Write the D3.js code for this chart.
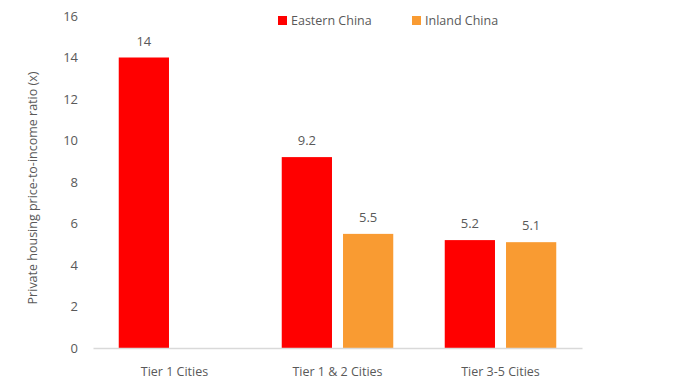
<!DOCTYPE html>
<html>
<head>
<meta charset="utf-8">
<script src="https://cdn.jsdelivr.net/npm/d3@7"></script>
<style>
  body { margin: 0; background: #fff; overflow: hidden; }
  text { font-family: "Open Sans", sans-serif; fill: #595959; }
</style>
</head>
<body>
<div id="canvas"></div>
<script>
const width = 698;
const height = 387;

// data
const categories = ['Tier 1 Cities', 'Tier 1 & 2 Cities', 'Tier 3-5 Cities'];
const seriesNames = ['Eastern China', 'Inland China'];
const eastern = [14, 9.2, 5.2];
const inland = [null, 5.5, 5.1];
const yTicks = [0, 2, 4, 6, 8, 10, 12, 14, 16];
const colors = ['#ff0000', '#f99b32'];

const svg = d3.select('#canvas')
  .append('svg')
  .attr('width', width)
  .attr('height', height)
  .style('display', 'block');

const margin = { top: 16, right: 116, bottom: 39, left: 93 };
const innerWidth = width - margin.left - margin.right;
const innerHeight = height - margin.top - margin.bottom;

const g = svg.append('g')
  .attr('transform', `translate(${margin.left},${margin.top})`);

const x0 = d3.scaleBand()
  .domain(categories)
  .range([0, innerWidth]);

const x1 = d3.scaleBand()
  .domain(seriesNames)
  .range([0, x0.bandwidth()])
  .paddingInner(0.18)
  .paddingOuter(0.42);

const y = d3.scaleLinear()
  .domain([0, 16])
  .range([innerHeight, 0]);

// y axis (labels only)
const yAxis = g.append('g')
  .call(d3.axisLeft(y).tickValues(yTicks).tickSize(0).tickPadding(15));
yAxis.select('.domain').remove();
yAxis.selectAll('text')
  .style('font-size', '13px')
  .attr('fill', '#595959');

// y title
svg.append('text')
  .attr('transform', `translate(37,${margin.top + innerHeight / 2 + 6}) rotate(-90)`)
  .attr('text-anchor', 'middle')
  .style('font-size', '12.5px')
  .text('Private housing price-to-income ratio (x)');

// flatten to one record per bar
const barData = [];
categories.forEach((c, ci) => {
  [eastern[ci], inland[ci]].forEach((v, si) => {
    if (v != null) barData.push({ cat: c, series: seriesNames[si], value: v, i: si });
  });
});
const bx = d => x0(d.cat) + x1(d.series);

g.append('g').selectAll('rect')
  .data(barData)
  .enter().append('rect')
    .attr('x', bx)
    .attr('width', x1.bandwidth())
    .attr('y', d => y(d.value))
    .attr('height', d => innerHeight - y(d.value))
    .attr('fill', d => colors[d.i]);

g.append('g').selectAll('text')
  .data(barData)
  .enter().append('text')
    .attr('x', d => bx(d) + x1.bandwidth() / 2)
    .attr('y', d => y(d.value) - 12)
    .attr('text-anchor', 'middle')
    .style('font-size', '13px')
    .text(d => d.value);

// x axis
const xAxis = g.append('g')
  .attr('transform', `translate(0,${innerHeight})`)
  .call(d3.axisBottom(x0).tickSize(0).tickPadding(0));
xAxis.select('.domain').attr('stroke', '#d9d9d9').attr('stroke-width', 1.5);
xAxis.selectAll('text')
  .attr('dy', null)
  .attr('y', 28)
  .style('font-size', '12.5px')
  .attr('fill', '#595959');

// legend
const legendX = [278, 412];
svg.selectAll('rect.legend')
  .data(seriesNames)
  .enter().append('rect')
    .attr('class', 'legend')
    .attr('x', (d, i) => legendX[i])
    .attr('y', 16)
    .attr('width', 9).attr('height', 9)
    .attr('fill', (d, i) => colors[i]);
svg.selectAll('text.legend')
  .data(seriesNames)
  .enter().append('text')
    .attr('class', 'legend')
    .attr('x', (d, i) => legendX[i] + 13)
    .attr('y', 25)
    .style('font-size', '12.5px')
    .text(d => d);
</script>
</body>
</html>
